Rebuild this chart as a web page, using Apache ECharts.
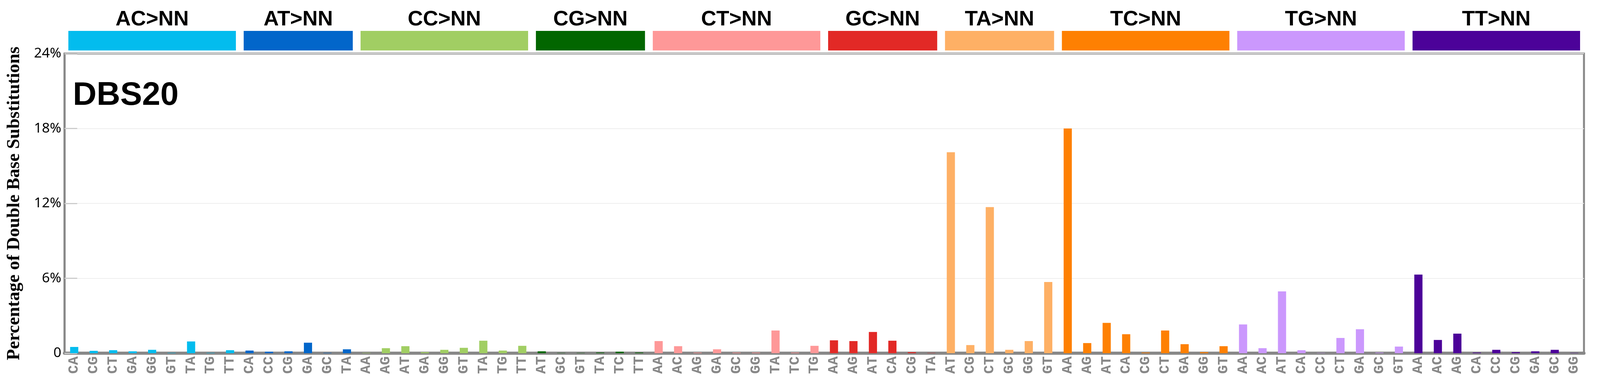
<!DOCTYPE html>
<html><head><meta charset="utf-8">
<script src="https://cdn.jsdelivr.net/npm/echarts@6/dist/echarts.min.js"></script>
<style>html,body{margin:0;padding:0;background:#fff;overflow:hidden}#c{width:100vw;height:100vh}</style>
</head><body><div id="c"></div>
<script>
const groups = ['AC>NN','AT>NN','CC>NN','CG>NN','CT>NN','GC>NN','TA>NN','TC>NN','TG>NN','TT>NN'];
const groupColors = ['#03BCEE','#0266CA','#A1CE63','#026600','#FE9898','#E22926','#FEB065','#FE8002','#CB98FD','#4C0299'];
const groupLabels = [
 ['CA','CG','CT','GA','GG','GT','TA','TG','TT'],
 ['CA','CC','CG','GA','GC','TA'],
 ['AA','AG','AT','GA','GG','GT','TA','TG','TT'],
 ['AT','GC','GT','TA','TC','TT'],
 ['AA','AC','AG','GA','GC','GG','TA','TC','TG'],
 ['AA','AG','AT','CA','CG','TA'],
 ['AT','CG','CT','GC','GG','GT'],
 ['AA','AG','AT','CA','CG','CT','GA','GG','GT'],
 ['AA','AC','AT','CA','CC','CT','GA','GC','GT'],
 ['AA','AC','AG','CA','CC','CG','GA','GC','GG']
];
const groupValues = [
 [0.50,0.19,0.24,0.15,0.27,0.03,0.94,0.03,0.24],
 [0.21,0.12,0.15,0.84,0.03,0.31],
 [0.03,0.40,0.56,0.08,0.27,0.43,1.00,0.21,0.59],
 [0.15,0.02,0.02,0.05,0.12,0.05],
 [0.97,0.56,0.05,0.31,0.05,0.05,1.82,0.05,0.59],
 [1.03,0.97,1.70,1.00,0.08,0.02],
 [16.1,0.65,11.7,0.27,0.97,5.7],
 [18.0,0.81,2.43,1.52,0.05,1.82,0.72,0.08,0.56],
 [2.30,0.40,4.95,0.24,0.02,1.22,1.92,0.05,0.53],
 [6.30,1.06,1.57,0.05,0.27,0.08,0.15,0.27,0.02]
];
const yTicks = [0,6,12,18,24];

const cats = [], data = [], groupRange = [];
groups.forEach((g,i)=>{
  const start = cats.length;
  groupLabels[i].forEach((l,j)=>{
    cats.push(l);
    data.push({value: groupValues[i][j], itemStyle:{color: groupColors[i]}});
  });
  groupRange.push([start, cats.length-1]);
});

const chart = echarts.init(document.getElementById('c'));
const W = chart.getWidth(), H = chart.getHeight();
const sx = W/4393, sy = H/992;
chart.setOption({
  animation:false,
  grid:{left:177*sx,right:44*sx,top:137*sy,bottom:89*sy,show:true,borderColor:'#888',borderWidth:5,backgroundColor:'transparent'},
  xAxis:{type:'category',data:cats,
    axisLine:{lineStyle:{color:'#888',width:8}},axisTick:{show:false},
    axisLabel:{rotate:90,interval:0,color:'#888',fontFamily:'Liberation Mono',fontWeight:'bold',fontSize:40*sx,margin:8}},
  yAxis:{type:'value',min:0,max:24,interval:6,
    axisLine:{show:true,lineStyle:{color:'#888',width:5}},
    axisTick:{show:true,inside:true,length:35*sx,lineStyle:{color:'#ccc',width:3}},
    splitLine:{lineStyle:{color:'#eee',width:2}},
    axisLabel:{fontSize:38*sx,color:'#000',fontFamily:'Noto Sans',margin:8,formatter:v=>v===0?'0':v+'%'},
    name:'Percentage of Double Base Substitutions',nameLocation:'middle',nameGap:112*sx,
    nameTextStyle:{fontFamily:'Liberation Serif',fontWeight:'bold',fontSize:50*sx,color:'#000'}},
  series:[{type:'bar',data:data,barWidth:'42%'}]
});

const graphics = [{type:'text',x:200*sx,y:245*sy,style:{text:'DBS20',font:'bold '+Math.round(90*sx)+'px "Liberation Sans"',fill:'#000',verticalAlign:'middle'}}];
const band = (W-(177+44)*sx)/cats.length;
groupRange.forEach((r,i)=>{
  const x0 = chart.convertToPixel({xAxisIndex:0}, r[0]);
  const x1 = chart.convertToPixel({xAxisIndex:0}, r[1]);
  const left = x0 - band*0.3, right = x1 + band*0.3;
  graphics.push({type:'rect',shape:{x:left,y:79*sy,width:right-left,height:50*sy},style:{fill:groupColors[i]}});
  graphics.push({type:'text',x:(left+right)/2,y:50*sy,style:{text:groups[i],font:'bold '+Math.round(58*sx)+'px "Liberation Sans"',fill:'#000',align:'center',verticalAlign:'middle'}});
});
chart.setOption({graphic:graphics});
</script></body></html>
